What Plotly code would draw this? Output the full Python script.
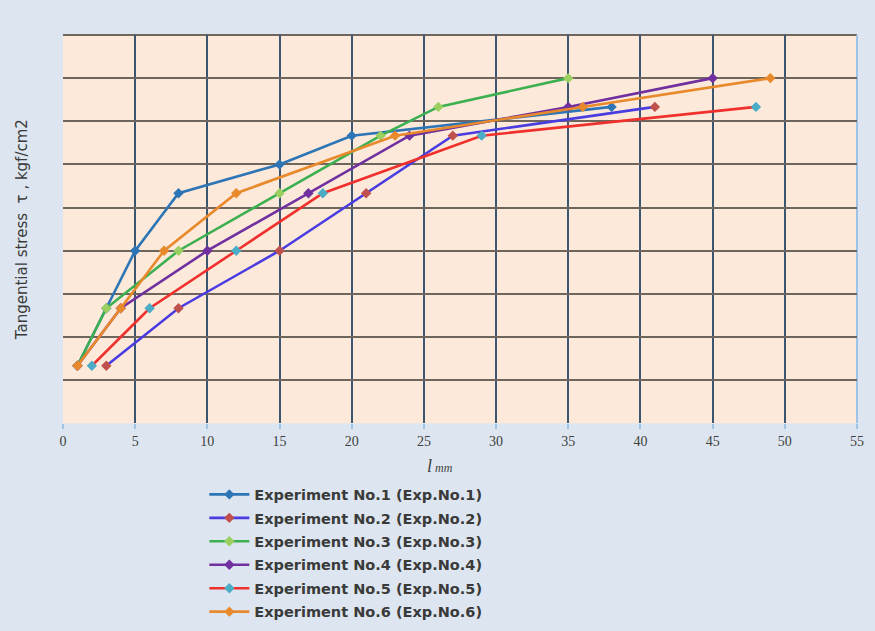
import plotly.graph_objects as go

# Crack length l (mm) and tangential stress τ (kgf/cm2) for each experiment
exp1_l = [1, 3, 5, 8, 15, 20, 38]
exp1_t = [4, 8, 12, 16, 18, 20, 22]

exp2_l = [3, 8, 15, 21, 27, 41]
exp2_t = [4, 8, 12, 16, 20, 22]

exp3_l = [1, 3, 8, 15, 22, 26, 35]
exp3_t = [4, 8, 12, 16, 20, 22, 24]

exp4_l = [1, 4, 10, 17, 24, 35, 45]
exp4_t = [4, 8, 12, 16, 20, 22, 24]

exp5_l = [2, 6, 12, 18, 29, 48]
exp5_t = [4, 8, 12, 16, 20, 22]

exp6_l = [1, 4, 7, 12, 23, 36, 49]
exp6_t = [4, 8, 12, 16, 20, 22, 24]

names = [
    "Experiment No.1 (Exp.No.1)",
    "Experiment No.2 (Exp.No.2)",
    "Experiment No.3 (Exp.No.3)",
    "Experiment No.4 (Exp.No.4)",
    "Experiment No.5 (Exp.No.5)",
    "Experiment No.6 (Exp.No.6)",
]
line_colors = ["#2e75b6", "#4a3de0", "#3cb050", "#7030a0", "#f0302c", "#e8892c"]
marker_colors = ["#2e75b6", "#c0504d", "#9bd060", "#7030a0", "#4bacc6", "#e8892c"]

x_ticks = list(range(0, 56, 5))
y_ticks = list(range(3, 28, 3))

series = [
    (exp1_l, exp1_t), (exp2_l, exp2_t), (exp3_l, exp3_t),
    (exp4_l, exp4_t), (exp5_l, exp5_t), (exp6_l, exp6_t),
]

fig = go.Figure()
for i, ((xs, ys), name, lc, mc) in enumerate(zip(series, names, line_colors, marker_colors)):
    fig.add_trace(go.Scatter(
        x=xs, y=ys, name=f"<b>{name}</b>", mode="lines+markers",
        legendgroup=f"g{i}",
        line=dict(color=lc, width=2.6),
        marker=dict(color=mc, size=8, symbol="diamond"),
    ))

# the chart occupies the upper part of the paper area; the legend sits beneath it
fig.update_layout(
    width=875, height=631,
    margin=dict(l=63, r=18, t=35, b=0),
    paper_bgcolor="#dde6f0",
    plot_bgcolor="#fde9da",
    font=dict(family="Liberation Sans, Arial, sans-serif", color="#404040"),
    showlegend=True,
    legend=dict(
        x=0.178, y=0.2559, xanchor="left", yanchor="top",
        orientation="v", bgcolor="rgba(0,0,0,0)",
        font=dict(size=14.5, color="#3a3a3a", family="DejaVu Sans, Verdana, sans-serif"),
        itemwidth=40, tracegroupgap=1.6, traceorder="grouped",
    ),
    xaxis=dict(
        range=[0, 55], tickvals=x_ticks,
        showgrid=True, gridcolor="#3b5670", gridwidth=1.6,
        zeroline=False, showline=False,
        ticks="outside", ticklen=5, tickcolor="#9dc3e6", tickwidth=1.5,
        tickfont=dict(family="Liberation Serif, Times New Roman, serif", size=14, color="#404040"),
    ),
    yaxis=dict(
        domain=[0.3485, 1],
        range=[0, 27], tickvals=y_ticks, showticklabels=False,
        showgrid=True, gridcolor="#6e655c", gridwidth=2,
        zeroline=False, showline=False, ticks="",
        title=dict(text="Tangential stress  τ , kgf/cm2",
                   font=dict(size=15, color="#3a3a3a", family="DejaVu Sans, Verdana, sans-serif"),
                   standoff=30),
    ),
)

# x-axis caption: italic "l" with smaller "mm"
fig.add_annotation(
    xref="paper", yref="paper", x=0.475, y=0.2768, xanchor="center", yanchor="middle",
    text="<i>l</i><span style='font-size:12px'> <i>mm</i></span>", showarrow=False,
    font=dict(family="Liberation Serif, Times New Roman, serif", size=18, color="#404040"),
)

# frame: dark top edge and light blue right edge of the plotting area
fig.add_shape(type="line", xref="x domain", yref="y domain", x0=0, x1=1, y0=1, y1=1,
              line=dict(color="#6e655c", width=2), layer="below")
fig.add_shape(type="line", xref="x domain", yref="y domain", x0=1, x1=1, y0=0, y1=1,
              line=dict(color="#9dc3e6", width=2), layer="below")

fig.write_html("out.html")
